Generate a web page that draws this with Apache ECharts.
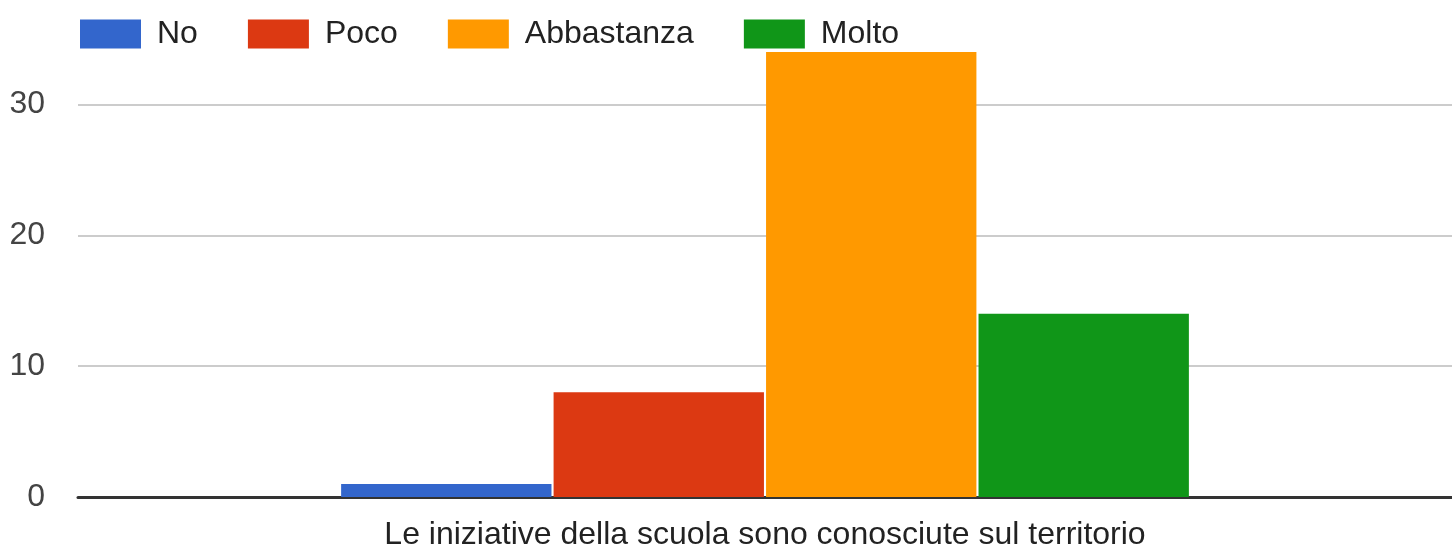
<!DOCTYPE html>
<html>
<head>
<meta charset="utf-8">
<script src="https://cdn.jsdelivr.net/npm/echarts@6/dist/echarts.min.js"></script>
<style>
html,body{margin:0;padding:0;background:#fff;}
#chart{width:1452px;height:551px;}
</style>
</head>
<body>
<div id="chart"></div>
<script>
const categories = ["Le iniziative della scuola sono conosciute sul territorio"];
const seriesNames = ["No", "Poco", "Abbastanza", "Molto"];
const noValues = [1];
const pocoValues = [8];
const abbastanzaValues = [34];
const moltoValues = [14];
const seriesColors = ["#3366cc", "#dc3912", "#ff9900", "#109618"];

const seriesValues = [noValues, pocoValues, abbastanzaValues, moltoValues];
const FONT = '"Liberation Sans", Arial, sans-serif';

const chart = echarts.init(document.getElementById('chart'), null, {renderer: 'canvas'});
chart.setOption({
  animation: false,
  backgroundColor: '#ffffff',
  textStyle: {fontFamily: FONT},
  legend: {
    left: 75,
    top: 13,
    icon: 'rect',
    itemWidth: 61,
    itemHeight: 29,
    itemGap: 50,
    textStyle: {fontSize: 32, color: '#222222', fontFamily: FONT, padding: [0, 0, 0, 11]},
    data: seriesNames
  },
  grid: {left: 78, right: 0, top: 39, bottom: 53, containLabel: false},
  xAxis: {
    type: 'category',
    data: categories,
    axisTick: {show: false},
    axisLine: {show: true, lineStyle: {color: '#333333', width: 3}},
    axisLabel: {fontSize: 32, color: '#222222', margin: 22, fontFamily: FONT}
  },
  yAxis: {
    type: 'value',
    min: 0,
    max: 35,
    interval: 10,
    axisLine: {show: false},
    axisTick: {show: false},
    axisLabel: {fontSize: 32, color: '#444444', margin: 33, fontFamily: FONT, showMaxLabel: false},
    splitLine: {lineStyle: {color: '#cccccc', width: 2}, showMaxLine: false}
  },
  series: seriesNames.map((name, i) => ({
    name: name,
    type: 'bar',
    data: seriesValues[i],
    barGap: '1%',
    barCategoryGap: '38.3%',
    itemStyle: {color: seriesColors[i]}
  }))
});
</script>
</body>
</html>
